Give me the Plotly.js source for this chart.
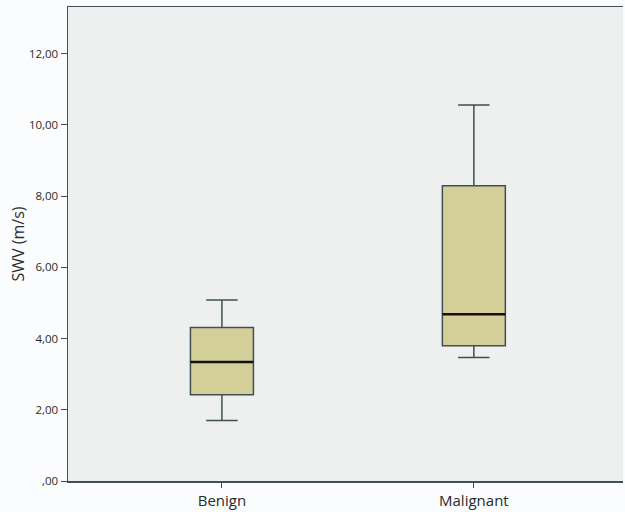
<!DOCTYPE html>
<html><head><meta charset="utf-8">
<script src="https://cdn.plot.ly/plotly-3.0.1.min.js"></script>
<style>html,body{margin:0;padding:0;background:#fbfcfd;}</style>
</head><body><div id="chart" style="width:625px;height:512px;"></div>
<script>
const categories = ["Benign", "Malignant"];
const lowerWhisker = [1.70, 3.47];
const q1 = [2.42, 3.80];
const median = [3.34, 4.68];
const q3 = [4.31, 8.29];
const upperWhisker = [5.08, 10.56];
const yTickVals = [0, 2, 4, 6, 8, 10, 12];
const yTickText = [",00", "2,00", "4,00", "6,00", "8,00", "10,00", "12,00"];

const pos = categories.map((c, i) => i);
const boxWidth = 0.25;
const lineColor = "#3f4f54";

const traces = [{
  type: "box",
  x: pos,
  q1: q1, median: median, q3: q3,
  lowerfence: lowerWhisker, upperfence: upperWhisker,
  width: boxWidth,
  whiskerwidth: 0.5,
  fillcolor: "#d4cf98",
  line: {color: lineColor, width: 1.5},
  hoverinfo: "none",
  showlegend: false
}];
categories.forEach((c, i) => {
  traces.push({
    type: "scatter", mode: "lines",
    x: [pos[i] - boxWidth / 2, pos[i] + boxWidth / 2],
    y: [median[i], median[i]],
    line: {color: "#111111", width: 2.5},
    hoverinfo: "none", showlegend: false
  });
});

const layout = {
  width: 625, height: 512,
  margin: {l: 68, r: 2, t: 7, b: 31},
  paper_bgcolor: "#fbfcfd",
  plot_bgcolor: "#eef0f0",
  font: {family: "Open Sans, Noto Sans, sans-serif", color: "#2a2a2a"},
  xaxis: {
    range: [-0.611, 1.592],
    tickvals: pos, ticktext: categories,
    showgrid: false, zeroline: false,
    showline: true, linecolor: lineColor, linewidth: 1.5,
    mirror: true,
    ticks: "outside", ticklen: 5, tickcolor: lineColor,
    tickfont: {size: 15, color: "#2a2a2a"}
  },
  yaxis: {
    range: [0, 13.31],
    tickvals: yTickVals, ticktext: yTickText,
    showgrid: false, zeroline: false,
    showline: true, linecolor: lineColor, linewidth: 1.5,
    ticks: "outside", ticklen: 6, tickcolor: lineColor,
    tickfont: {size: 11.5, color: "#2a2a2a"},
    title: {text: "SWV (m/s)", font: {size: 16, color: "#2a2a2a"}, standoff: 0}
  }
};
Plotly.newPlot("chart", traces, layout, {displayModeBar: false, staticPlot: true});
</script></body></html>
